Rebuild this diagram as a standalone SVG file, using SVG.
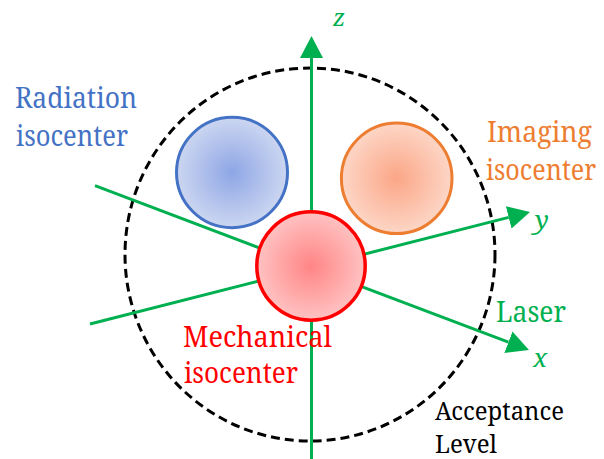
<svg xmlns="http://www.w3.org/2000/svg" width="604" height="459" viewBox="0 0 604 459">
  <defs>
    <radialGradient id="gBlue" cx="50%" cy="50%" r="50%">
      <stop offset="0" stop-color="#8EA6E5"/>
      <stop offset="1" stop-color="#CCD6F1"/>
    </radialGradient>
    <radialGradient id="gOrange" cx="50%" cy="50%" r="50%">
      <stop offset="0" stop-color="#FBA687"/>
      <stop offset="1" stop-color="#FDD6C6"/>
    </radialGradient>
    <radialGradient id="gRed" cx="50%" cy="50%" r="50%">
      <stop offset="0" stop-color="#FF8585"/>
      <stop offset="1" stop-color="#FFC2C2"/>
    </radialGradient>
    <marker id="arrow" viewBox="0 0 22 23" refX="0" refY="11.5" markerWidth="22" markerHeight="23" markerUnits="userSpaceOnUse" orient="auto">
      <path d="M0,0 L22,11.5 L0,23 z" fill="#00B050"/>
    </marker>
  </defs>
  <style>
    text { font-family: "Noto Serif", "DejaVu Serif", serif; }
    .lbl { font-size: 29px; }
    .small { font-size: 25.5px; }
    .ax { font-size: 26px; font-style: italic; fill: #00B050; }
    .axis { stroke: #00B050; stroke-width: 3; fill: none; }
  </style>

  <!-- acceptance boundary -->
  <g id="acceptance">
    <ellipse cx="310" cy="254.5" rx="185" ry="186.5" fill="none" stroke="#000" stroke-width="3" stroke-dasharray="9 5"/>
    <text class="small" x="435" y="420" fill="#000" textLength="129" lengthAdjust="spacingAndGlyphs">Acceptance</text>
    <text class="small" x="435" y="453" fill="#000" textLength="62" lengthAdjust="spacingAndGlyphs">Level</text>
  </g>

  <!-- laser axes -->
  <g id="connectors">
    <line class="axis" x1="311.5" y1="459" x2="311.5" y2="58" marker-end="url(#arrow)"/>
    <line class="axis" x1="95" y1="185.7" x2="508.4" y2="342.2" marker-end="url(#arrow)"/>
    <line class="axis" x1="90" y1="324" x2="508.7" y2="217.4" marker-end="url(#arrow)"/>
  </g>

  <g id="axis-labels">
    <text class="ax" x="333" y="26" style="font-size:24px">z</text>
    <text class="ax" x="535" y="229">y</text>
    <text class="ax" x="533" y="367">x</text>
    <text class="lbl" x="496" y="322" fill="#00B050" textLength="70" lengthAdjust="spacingAndGlyphs">Laser</text>
  </g>

  <g id="radiation">
    <ellipse cx="232" cy="172.5" rx="55.5" ry="55.2" fill="url(#gBlue)" stroke="#4472C4" stroke-width="3"/>
    <text class="lbl" x="15" y="108" fill="#4472C4" textLength="122" lengthAdjust="spacingAndGlyphs">Radiation</text>
    <text class="lbl" x="16" y="146" fill="#4472C4" textLength="112" lengthAdjust="spacingAndGlyphs">isocenter</text>
  </g>

  <g id="imaging">
    <ellipse cx="396.7" cy="178.3" rx="55.3" ry="55.3" fill="url(#gOrange)" stroke="#ED7D31" stroke-width="3"/>
    <text class="lbl" x="487" y="142" fill="#ED7D31" textLength="105" lengthAdjust="spacingAndGlyphs">Imaging</text>
    <text class="lbl" x="486" y="180" fill="#ED7D31" textLength="110" lengthAdjust="spacingAndGlyphs">isocenter</text>
  </g>

  <g id="mechanical">
    <ellipse cx="311" cy="266" rx="54.2" ry="54.2" fill="url(#gRed)" stroke="#FF0000" stroke-width="3.5"/>
    <text class="lbl" x="183" y="347" fill="#FF0000" textLength="149" lengthAdjust="spacingAndGlyphs">Mechanical</text>
    <text class="lbl" x="184" y="383" fill="#FF0000" textLength="114" lengthAdjust="spacingAndGlyphs">isocenter</text>
  </g>
</svg>
